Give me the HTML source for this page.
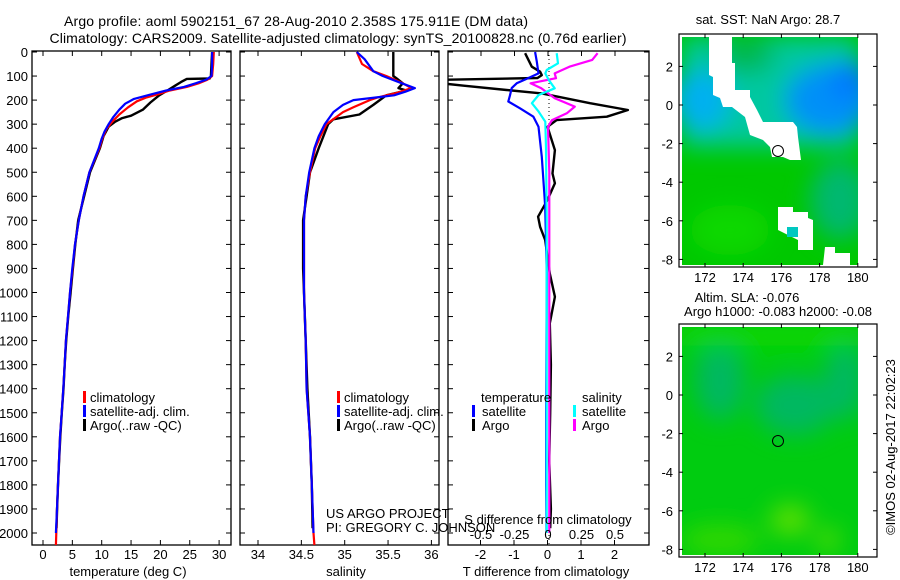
<!DOCTYPE html>
<html><head><meta charset="utf-8"><style>
html,body{margin:0;padding:0;background:#fff;}
svg{display:block;font-family:"Liberation Sans",sans-serif;}
</style></head><body>
<svg id="fig" width="900" height="580" viewBox="0 0 900 580" xmlns="http://www.w3.org/2000/svg">
<defs>
<clipPath id="c1"><rect x="32" y="51" width="199" height="494"/></clipPath>
<clipPath id="c2"><rect x="240" y="51" width="199" height="494"/></clipPath>
<clipPath id="c3"><rect x="448" y="51" width="201" height="494"/></clipPath>
<clipPath id="m1"><rect x="682" y="37" width="176" height="228"/></clipPath>
<clipPath id="m2"><rect x="682" y="327" width="176" height="228"/></clipPath>
<filter id="bl" x="-50%" y="-50%" width="200%" height="200%"><feGaussianBlur stdDeviation="12"/></filter>
</defs>
<text x="296" y="26" text-anchor="middle" font-size="14" textLength="464">Argo profile: aoml 5902151_67 28-Aug-2010 2.358S 175.911E (DM data)</text>
<text x="338" y="43" text-anchor="middle" font-size="14" textLength="577">Climatology: CARS2009. Satellite-adjusted climatology: synTS_20100828.nc (0.76d earlier)</text>

<!-- map 1 -->
<g>
<text x="768" y="24" text-anchor="middle" font-size="13">sat. SST: NaN Argo: 28.7</text>
<g clip-path="url(#m1)">
<rect x="682" y="37" width="176" height="228" fill="#00c800"/>
<g filter="url(#bl)">
<rect x="682" y="37" width="176" height="110" fill="#00c8a0"/>
<ellipse cx="700" cy="100" rx="30" ry="30" fill="#00b0f0"/>
<ellipse cx="830" cy="100" rx="45" ry="35" fill="#0090f8"/>
<ellipse cx="850" cy="80" rx="20" ry="20" fill="#0078ff"/>
<ellipse cx="745" cy="55" rx="30" ry="18" fill="#00b850"/>
<ellipse cx="840" cy="200" rx="30" ry="40" fill="#00b870"/>
<ellipse cx="730" cy="230" rx="40" ry="25" fill="#10d800"/>
</g>
<rect x="858" y="37" width="20" height="228" fill="#fff"/>
<polygon fill="#fff" points="709,37 732,37 732,63 735,63 735,90 750,90 750,97 757,110 763,122 793,122 797,127 798,137 801,160 790,160 783,157 772,157 770,147 763,140 750,135 745,117 732,107 723,107 720,98 713,95 713,77 709,75"/>
<polygon fill="#fff" points="778,207 793,207 793,212 808,212 808,218 813,220 813,250 798,250 798,240 778,230"/>
<polygon fill="#fff" points="825,247 835,247 835,253 850,253 850,265 823,265"/>
<rect x="787" y="227" width="11" height="10" fill="#00c8c0"/>
</g>
<circle cx="778" cy="151" r="5.5" fill="none" stroke="#000" stroke-width="1"/>
<rect x="679" y="34" width="198" height="233" fill="none" stroke="#000" stroke-width="1.2"/>
<g id="map1axes"></g>
</g>

<!-- map 2 -->
<g>
<text x="747" y="302" text-anchor="middle" font-size="13">Altim. SLA: -0.076</text>
<text x="778" y="316" text-anchor="middle" font-size="13">Argo h1000: -0.083 h2000: -0.08</text>
<g clip-path="url(#m2)">
<rect x="682" y="327" width="176" height="228" fill="#00cc10"/>
<g filter="url(#bl)">
<ellipse cx="720" cy="380" rx="25" ry="40" fill="#00b860"/>
<ellipse cx="795" cy="405" rx="40" ry="30" fill="#00b860"/>
<ellipse cx="845" cy="380" rx="20" ry="40" fill="#00b860"/>
<ellipse cx="790" cy="520" rx="20" ry="15" fill="#60e000"/>
<ellipse cx="828" cy="540" rx="10" ry="12" fill="#60e000"/>
<ellipse cx="720" cy="540" rx="40" ry="15" fill="#30d800"/>
<rect x="682" y="327" width="176" height="20" fill="#10d800"/>
</g>
<rect x="858" y="327" width="20" height="228" fill="#fff"/>
</g>
<circle cx="778" cy="441" r="5.5" fill="none" stroke="#000" stroke-width="1"/>
<rect x="679" y="324" width="198" height="233" fill="none" stroke="#000" stroke-width="1.2"/>
<g id="map2axes"></g>
</g>
<text x="0" y="0" transform="translate(895,447) rotate(-90)" text-anchor="middle" font-size="13">©IMOS 02-Aug-2017 22:02:23</text>

<g id="plots"></g>
</svg>
<script>
// ---- temperature profiles ----
const tClimDepth=[0,50,100,115,130,145,160,177,190,205,230,260,290,320,360,400,500,600,700,800,900,1000,1100,1200,1300,1400,1500,1600,1700,1800,1900,2000,2050];
const tClimVal=[29.1,29.0,28.8,28.0,26.5,24.5,21.6,19.4,17.5,16.0,14.5,13.0,11.8,10.8,10.1,9.6,7.9,6.9,6.1,5.45,5.05,4.6,4.26,3.9,3.7,3.46,3.18,2.9,2.73,2.55,2.39,2.27,2.2];
const tSatDepth=[0,50,100,115,130,145,160,177,195,215,240,270,300,330,360,400,500,600,700,800,900,1000,1100,1200,1300,1400,1500,1600,1700,1800,1900,2000];
const tSatVal=[28.8,28.8,28.7,27.8,26.0,24.0,21.0,18.3,15.5,14.0,13.0,12.0,11.2,10.5,10.0,9.5,7.9,6.9,6.1,5.45,5.0,4.6,4.26,3.9,3.7,3.46,3.18,2.9,2.73,2.55,2.39,2.2];
const tArgoDepth=[0,100,110,112,125,140,160,180,210,240,265,275,290,310,350,400,500,600,700,800,900,1000,1100,1200,1300,1400,1500,1600,1700,1800,1900,1980];
const tArgoVal=[28.8,28.6,28.4,24.5,23.5,22.5,21.2,19.8,18.3,17.0,15.0,13.5,12.3,11.2,10.3,9.7,8.0,7.0,6.0,5.5,5.1,4.7,4.3,3.95,3.7,3.5,3.2,2.95,2.75,2.55,2.4,2.3];
// ---- salinity profiles ----
const sClimDepth=[0,50,80,100,130,150,170,190,200,230,250,300,350,400,500,600,700,800,900,1000,1200,1400,1600,1800,2000,2050];
const sClimVal=[35.14,35.2,35.33,35.48,35.67,35.77,35.6,35.37,35.29,35.1,34.98,34.79,34.72,34.66,34.6,34.55,34.53,34.53,34.53,34.53,34.55,34.56,34.6,34.62,34.64,34.65];
const sSatDepth=[0,30,80,100,130,150,165,180,200,220,250,300,350,400,500,600,700,800,900,1000,1200,1400,1600,1800,2000];
const sSatVal=[35.14,35.23,35.33,35.44,35.66,35.81,35.7,35.57,35.1,34.98,34.87,34.77,34.7,34.65,34.59,34.55,34.53,34.53,34.53,34.53,34.55,34.56,34.6,34.62,34.64];
const sArgoDepth=[0,100,110,130,150,160,180,220,260,280,300,400,500,600,700,800,900,1000,1200,1400,1600,1800,1980];
const sArgoVal=[35.56,35.56,35.6,35.67,35.62,35.71,35.48,35.33,35.17,34.87,34.81,34.7,34.6,34.56,34.52,34.52,34.52,34.53,34.55,34.57,34.6,34.62,34.63];
// ---- differences ----
const dTSatDepth=[0,40,89,110,130,150,180,206,234,269,311,436,643,921,1200,1500,1800,2000];
const dTSatVal=[-0.37,-0.32,-0.27,-0.6,-0.92,-1.07,-1.12,-1.17,-0.82,-0.42,-0.27,-0.17,-0.07,-0.02,-0.03,-0.04,-0.04,-0.03];
const dTArgoDepth=[5,61,82,96,108,116,128,140,158,172,213,241,269,283,311,408,505,546,615,685,727,782,921,1018,1128,1300,1500,1700,1900,1980];
const dTArgoVal=[-0.67,-0.47,-0.22,-0.17,-0.3,-3.3,-3.3,-2.5,-1.22,-0.17,1.27,2.4,1.77,0.27,0.0,0.22,0.15,0.22,0.0,-0.28,-0.22,-0.07,0.07,0.22,0.07,0.1,0.08,0.05,0.1,0.08];
const dSSatDepth=[5,47,75,89,116,151,179,213,248,290,400,700,1000,1500,2000];
const dSSatVal=[0.065,0.075,-0.01,-0.02,0.005,0.05,-0.07,-0.12,-0.07,-0.02,-0.015,-0.01,-0.01,-0.01,-0.01];
const dSArgoDepth=[5,33,61,89,109,130,151,192,227,255,283,311,500,800,1200,1600,2000];
const dSArgoVal=[0.37,0.33,0.16,0.05,0.06,-0.13,-0.05,0.05,0.2,0.14,0.03,0.0,0.01,0.01,0.01,0.01,0.01];
// ---- axis ticks ----
const depthTicks=[0,100,200,300,400,500,600,700,800,900,1000,1100,1200,1300,1400,1500,1600,1700,1800,1900,2000];
const tempTicks=[0,5,10,15,20,25,30];
const salTicks=[34,34.5,35,35.5,36];
const salTickLabels=["34","34.5","35","35.5","36"];
const dTTicks=[-2,-1,0,1,2];
const dSTicks=[-0.5,-0.25,0,0.25,0.5];
const dSTickLabels=["-0.5","-0.25","0","0.25","0.5"];
const lonTicks=[172,174,176,178,180];
const latTicks=[2,0,-2,-4,-6,-8];

const NS="http://www.w3.org/2000/svg";
const root=document.getElementById('plots');
function mk(tag,attrs,parent){const e=document.createElementNS(NS,tag);for(const k in attrs)e.setAttribute(k,attrs[k]);(parent||root).appendChild(e);return e;}
const yD=d=>52+d*0.2405;
const xT=v=>43+v*5.87;
const xS=v=>258+(v-34)*86.7;
const xDT=v=>547.5+v*33.5;
const xDS=v=>548+v*134;
const pTop=51,pBot=545;

function frame(x0,x1,name){
  const r=mk('rect',{x:x0,y:pTop,width:x1-x0,height:pBot-pTop,fill:'none',stroke:'#000','stroke-width':1.3});
  
  
}
function depthTickMarks(x0,x1,labels){
  depthTicks.forEach(d=>{
    const y=yD(d);
    const t=mk('line',{x1:x0,x2:x0+5,y1:y,y2:y,stroke:'#000'});
    
    
    mk('line',{x1:x1,x2:x1-5,y1:y,y2:y,stroke:'#000'});
    if(labels){const l=mk('text',{x:28,y:y+5,'text-anchor':'end','font-size':13});l.textContent=String(d);
      
      }
  });
}
function xTicks(vals,labels,fx,ylab,name){
  vals.forEach((v,i)=>{
    const x=fx(v);
    mk('line',{x1:x,x2:x,y1:pTop,y2:pTop+5,stroke:'#000'});
    mk('line',{x1:x,x2:x,y1:pBot,y2:pBot-5,stroke:'#000'});
    const l=mk('text',{x:x,y:ylab,'text-anchor':'middle','font-size':13});
    l.textContent=labels[i];
    
    
  });
}
function line(ds,vs,fx,color,clip,name,w){
  const pts=ds.map((d,i)=>fx(vs[i]).toFixed(1)+','+yD(d).toFixed(1)).join(' ');
  const p=mk('polyline',{points:pts,fill:'none',stroke:color,'stroke-width':w||2.2,'clip-path':'url(#'+clip+')','stroke-linejoin':'round'});
  
  
}
function txt(x,y,s,name,anchor,size){
  const l=mk('text',{x:x,y:y,'text-anchor':anchor||'start','font-size':size||13});
  l.textContent=s;
  
  
  return l;
}
function legBar(x,y,color,name){
  const r=mk('rect',{x:x,y:y-6,width:3,height:12,fill:color});
  
  
}

// panel 1 temperature
frame(32,231,'temperature-panel-frame');
depthTickMarks(32,231,true);
xTicks(tempTicks,tempTicks.map(String),xT,559,'temperature-tick-label');
line(tArgoDepth,tArgoVal,xT,'#000','c1','temperature-argo-line',2.4);
line(tClimDepth,tClimVal,xT,'#f00','c1','temperature-climatology-line');
line(tSatDepth,tSatVal,xT,'#00f','c1','temperature-satellite-line');
txt(128,576,'temperature (deg C)','temperature-axis-title','middle');
legBar(83,397,'#f00','legend-climatology-swatch');txt(90,402,'climatology','legend-climatology');
legBar(83,411,'#00f','legend-satellite-swatch');txt(90,416,'satellite-adj. clim.','legend-satellite-adj');
legBar(83,425,'#000','legend-argo-swatch');txt(90,430,'Argo(..raw -QC)','legend-argo');

// panel 2 salinity
frame(240,439,'salinity-panel-frame');
depthTickMarks(240,439,false);
xTicks(salTicks,salTickLabels,xS,559,'salinity-tick-label');
line(sArgoDepth,sArgoVal,xS,'#000','c2','salinity-argo-line',2.4);
line(sClimDepth,sClimVal,xS,'#f00','c2','salinity-climatology-line');
line(sSatDepth,sSatVal,xS,'#00f','c2','salinity-satellite-line');
txt(346,576,'salinity','salinity-axis-title','middle');
legBar(337,397,'#f00','legend2-climatology-swatch');txt(344,402,'climatology','legend2-climatology');
legBar(337,411,'#00f','legend2-satellite-swatch');txt(344,416,'satellite-adj. clim.','legend2-satellite-adj');
legBar(337,425,'#000','legend2-argo-swatch');txt(344,430,'Argo(..raw -QC)','legend2-argo');
txt(326,518,'US ARGO PROJECT','project-label');
txt(326,532,'PI: GREGORY C. JOHNSON','pi-label');

// panel 3 differences
frame(448,649,'difference-panel-frame');
depthTickMarks(448,649,false);
dTTicks.forEach(v=>{const x=xDT(v);mk('line',{x1:x,x2:x,y1:pBot,y2:pBot-5,stroke:'#000'});
  txt(x,559,String(v),'t-difference-tick-label','middle');});
dSTicks.forEach(v=>{const x=xDS(v);mk('line',{x1:x,x2:x,y1:pTop,y2:pTop+5,stroke:'#000'});});
const zl=mk('line',{x1:549,x2:549,y1:pTop,y2:pBot,stroke:'#000','stroke-dasharray':'1,3'});


line(dTArgoDepth,dTArgoVal,xDT,'#000','c3','t-diff-argo-line',2.4);
line(dTSatDepth,dTSatVal,xDT,'#00f','c3','t-diff-satellite-line');
line(dSArgoDepth,dSArgoVal,xDS,'#f0f','c3','s-diff-argo-line');
line(dSSatDepth,dSSatVal,xDS,'#0ff','c3','s-diff-satellite-line');
txt(548,524,'S difference from climatology','s-difference-axis-title','middle');
dSTicks.forEach((v,i)=>{txt(xDS(v),539,dSTickLabels[i],'s-difference-tick-label','middle');});
txt(546,576,'T difference from climatology','t-difference-axis-title','middle');
txt(481,402,'temperature','legend3-temperature-header');
legBar(472,411,'#00f','legend3-t-satellite-swatch');txt(482,416,'satellite','legend3-t-satellite');
legBar(472,425,'#000','legend3-t-argo-swatch');txt(482,430,'Argo','legend3-t-argo');
txt(582,402,'salinity','legend3-salinity-header');
legBar(573,411,'#0ff','legend3-s-satellite-swatch');txt(582,416,'satellite','legend3-s-satellite');
legBar(573,425,'#f0f','legend3-s-argo-swatch');txt(582,430,'Argo','legend3-s-argo');

// map axes
function mapAxes(gid,y0,y1,lat0y){
  const g=document.getElementById(gid);
  lonTicks.forEach(v=>{const x=705+(v-172)*19.1;
    mk('line',{x1:x,x2:x,y1:y0,y2:y0+4,stroke:'#000'},g);
    mk('line',{x1:x,x2:x,y1:y1,y2:y1-4,stroke:'#000'},g);
    const l=mk('text',{x:x,y:y1+15,'text-anchor':'middle','font-size':13},g);l.textContent=String(v);
    
    });
  latTicks.forEach(v=>{const y=lat0y-v*19.3;
    mk('line',{x1:679,x2:683,y1:y,y2:y,stroke:'#000'},g);
    mk('line',{x1:877,x2:873,y1:y,y2:y,stroke:'#000'},g);
    const l=mk('text',{x:673,y:y+5,'text-anchor':'end','font-size':13},g);l.textContent=String(v);
    
    });
}
mapAxes('map1axes',34,267,105);
mapAxes('map2axes',324,557,395);
</script>
</body></html>
